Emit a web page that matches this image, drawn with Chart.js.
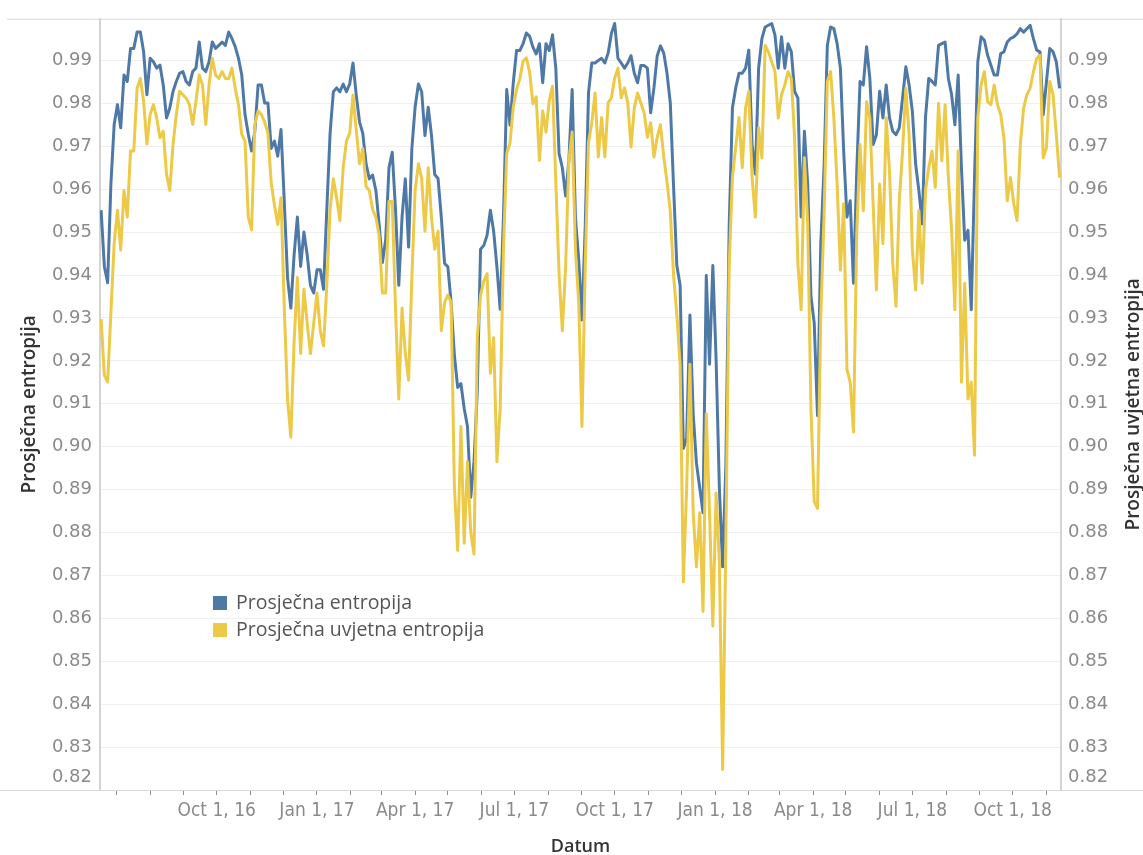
<!DOCTYPE html>
<html>
<head>
<meta charset="utf-8">
<script src="https://cdn.jsdelivr.net/npm/chart.js@4.4.1/dist/chart.umd.min.js"></script>
<style>
  html, body { margin: 0; padding: 0; background: #ffffff; }
  #wrap { width: 1143px; height: 855px; position: relative; }
</style>
</head>
<body>
<div id="wrap"><canvas id="chart" width="1143" height="855"></canvas></div>
<script>
// Daily sampling: one value every STEP_DAYS days, first sample on 17 Jun 2016.
const AXIS_START = Date.UTC(2016, 5, 16);   // day 0 of the time axis
const FIRST_SAMPLE_DAY = 1;
const STEP_DAYS = 3;
const AXIS_END_DAY = 881.3;

const SERIES_NAMES = ['Prosječna entropija', 'Prosječna uvjetna entropija'];
const AXIS_TITLES = { left: 'Prosječna entropija', right: 'Prosječna uvjetna entropija', bottom: 'Datum' };

const prosjecnaEntropija = [
  0.9551, 0.9420, 0.9382, 0.9612, 0.9751, 0.9797, 0.9743, 0.9866, 0.9851, 0.9928,
  0.9928, 0.9966, 0.9966, 0.9920, 0.9820, 0.9905, 0.9897, 0.9882, 0.9889, 0.9843,
  0.9766, 0.9789, 0.9828, 0.9851, 0.9870, 0.9874, 0.9851, 0.9843, 0.9874, 0.9882,
  0.9943, 0.9882, 0.9874, 0.9897, 0.9943, 0.9928, 0.9935, 0.9943, 0.9935, 0.9966,
  0.9951, 0.9932, 0.9905, 0.9866, 0.9774, 0.9728, 0.9689, 0.9735, 0.9843, 0.9843,
  0.9801, 0.9801, 0.9695, 0.9712, 0.9677, 0.9739, 0.9571, 0.9394, 0.9323, 0.9447,
  0.9535, 0.9420, 0.9500, 0.9447, 0.9376, 0.9358, 0.9412, 0.9412, 0.9367, 0.9553,
  0.9730, 0.9827, 0.9836, 0.9827, 0.9845, 0.9827, 0.9845, 0.9894, 0.9819, 0.9757,
  0.9730, 0.9659, 0.9624, 0.9633, 0.9597, 0.9518, 0.9429, 0.9482, 0.9650, 0.9686,
  0.9553, 0.9376, 0.9535, 0.9624, 0.9465, 0.9695, 0.9792, 0.9845, 0.9827, 0.9725,
  0.9791, 0.9725, 0.9634, 0.9625, 0.9535, 0.9427, 0.9419, 0.9336, 0.9213, 0.9138,
  0.9147, 0.9089, 0.9047, 0.8882, 0.8965, 0.9130, 0.9460, 0.9469, 0.9493, 0.9551,
  0.9502, 0.9419, 0.9320, 0.9535, 0.9832, 0.9749, 0.9848, 0.9923, 0.9923, 0.9939,
  0.9964, 0.9956, 0.9931, 0.9915, 0.9939, 0.9848, 0.9939, 0.9923, 0.9960, 0.9882,
  0.9683, 0.9650, 0.9584, 0.9667, 0.9832, 0.9535, 0.9436, 0.9295, 0.9514, 0.9825,
  0.9894, 0.9894, 0.9900, 0.9905, 0.9894, 0.9917, 0.9963, 0.9986, 0.9905, 0.9894,
  0.9882, 0.9894, 0.9911, 0.9870, 0.9848, 0.9888, 0.9888, 0.9882, 0.9778, 0.9836,
  0.9911, 0.9934, 0.9917, 0.9870, 0.9801, 0.9606, 0.9422, 0.9376, 0.8996, 0.9019,
  0.9307, 0.9076, 0.8961, 0.8904, 0.8846, 0.9399, 0.9192, 0.9422, 0.9203, 0.8904,
  0.8720, 0.8961, 0.9514, 0.9790, 0.9836, 0.9870, 0.9870, 0.9882, 0.9924, 0.9704,
  0.9635, 0.9882, 0.9951, 0.9978, 0.9982, 0.9986, 0.9959, 0.9882, 0.9955, 0.9882,
  0.9939, 0.9920, 0.9828, 0.9812, 0.9535, 0.9735, 0.9612, 0.9350, 0.9288, 0.9072,
  0.9473, 0.9650, 0.9935, 0.9978, 0.9974, 0.9939, 0.9882, 0.9689, 0.9535, 0.9573,
  0.9381, 0.9643, 0.9851, 0.9843, 0.9932, 0.9858, 0.9704, 0.9727, 0.9828, 0.9766,
  0.9843, 0.9766, 0.9735, 0.9727, 0.9743, 0.9812, 0.9885, 0.9843, 0.9781, 0.9658,
  0.9596, 0.9519, 0.9766, 0.9858, 0.9851, 0.9843, 0.9935, 0.9939, 0.9943, 0.9858,
  0.9820, 0.9750, 0.9866, 0.9650, 0.9481, 0.9504, 0.9319, 0.9627, 0.9897, 0.9955,
  0.9947, 0.9912, 0.9889, 0.9866, 0.9866, 0.9916, 0.9920, 0.9943, 0.9951, 0.9955,
  0.9962, 0.9974, 0.9966, 0.9974, 0.9982, 0.9951, 0.9924, 0.9920, 0.9774, 0.9851,
  0.9928, 0.9920, 0.9897, 0.9835
];

const prosjecnaUvjetnaEntropija = [
  0.9297, 0.9166, 0.9151, 0.9312, 0.9474, 0.9551, 0.9458, 0.9597, 0.9535, 0.9689,
  0.9689, 0.9835, 0.9858, 0.9805, 0.9705, 0.9774, 0.9797, 0.9766, 0.9720, 0.9735,
  0.9635, 0.9597, 0.9705, 0.9774, 0.9828, 0.9820, 0.9812, 0.9797, 0.9751, 0.9805,
  0.9866, 0.9843, 0.9751, 0.9843, 0.9905, 0.9866, 0.9858, 0.9874, 0.9858, 0.9858,
  0.9882, 0.9835, 0.9797, 0.9728, 0.9712, 0.9535, 0.9505, 0.9751, 0.9782, 0.9774,
  0.9757, 0.9730, 0.9615, 0.9562, 0.9518, 0.9580, 0.9323, 0.9111, 0.9022, 0.9243,
  0.9394, 0.9217, 0.9367, 0.9288, 0.9217, 0.9288, 0.9358, 0.9270, 0.9235, 0.9376,
  0.9553, 0.9624, 0.9580, 0.9527, 0.9650, 0.9712, 0.9730, 0.9819, 0.9739, 0.9659,
  0.9695, 0.9606, 0.9597, 0.9553, 0.9535, 0.9491, 0.9358, 0.9358, 0.9571, 0.9571,
  0.9323, 0.9111, 0.9323, 0.9217, 0.9155, 0.9394, 0.9597, 0.9659, 0.9624, 0.9502,
  0.9650, 0.9535, 0.9460, 0.9502, 0.9270, 0.9336, 0.9353, 0.9336, 0.8907, 0.8758,
  0.9047, 0.8775, 0.8965, 0.8800, 0.8750, 0.9254, 0.9353, 0.9386, 0.9403, 0.9171,
  0.9254, 0.8965, 0.9089, 0.9460, 0.9683, 0.9708, 0.9791, 0.9832, 0.9857, 0.9898,
  0.9906, 0.9873, 0.9799, 0.9815, 0.9667, 0.9782, 0.9733, 0.9807, 0.9840, 0.9617,
  0.9403, 0.9270, 0.9419, 0.9667, 0.9733, 0.9460, 0.9336, 0.9047, 0.9422, 0.9709,
  0.9755, 0.9824, 0.9675, 0.9767, 0.9675, 0.9801, 0.9813, 0.9859, 0.9882, 0.9813,
  0.9836, 0.9801, 0.9698, 0.9790, 0.9824, 0.9801, 0.9778, 0.9721, 0.9755, 0.9675,
  0.9721, 0.9750, 0.9675, 0.9617, 0.9548, 0.9399, 0.9307, 0.9192, 0.8685, 0.8904,
  0.9192, 0.8846, 0.8720, 0.8846, 0.8616, 0.9076, 0.8846, 0.8582, 0.8892, 0.8731,
  0.8248, 0.8789, 0.9422, 0.9629, 0.9698, 0.9767, 0.9650, 0.9789, 0.9828, 0.9627,
  0.9535, 0.9743, 0.9673, 0.9935, 0.9920, 0.9897, 0.9874, 0.9766, 0.9820, 0.9843,
  0.9874, 0.9858, 0.9720, 0.9427, 0.9319, 0.9673, 0.9519, 0.9088, 0.8872, 0.8856,
  0.9303, 0.9535, 0.9851, 0.9874, 0.9766, 0.9612, 0.9411, 0.9566, 0.9180, 0.9150,
  0.9034, 0.9496, 0.9704, 0.9550, 0.9804, 0.9766, 0.9566, 0.9365, 0.9612, 0.9473,
  0.9766, 0.9643, 0.9427, 0.9327, 0.9573, 0.9689, 0.9835, 0.9727, 0.9458, 0.9365,
  0.9550, 0.9381, 0.9596, 0.9650, 0.9689, 0.9604, 0.9800, 0.9666, 0.9797, 0.9627,
  0.9504, 0.9319, 0.9689, 0.9150, 0.9381, 0.9111, 0.9150, 0.8980, 0.9766, 0.9843,
  0.9874, 0.9804, 0.9797, 0.9843, 0.9797, 0.9774, 0.9720, 0.9573, 0.9627, 0.9566,
  0.9527, 0.9704, 0.9789, 0.9820, 0.9835, 0.9874, 0.9905, 0.9912, 0.9673, 0.9697,
  0.9851, 0.9820, 0.9727, 0.9627
];

const Y_TICKS = [0.82, 0.83, 0.84, 0.85, 0.86, 0.87, 0.88, 0.89, 0.90,
                 0.91, 0.92, 0.93, 0.94, 0.95, 0.96, 0.97, 0.98, 0.99];
const Y_MIN = 0.82;
const Y_MAX = 0.9997;

// Month starts shown as tick marks; quarter starts carry a label.
const FIRST_TICK_MONTH = [2016, 6];   // Jul 2016
const LAST_TICK_MONTH = [2018, 10];   // Nov 2018
const MONTH_ABBR = ['Jan', 'Feb', 'Mar', 'Apr', 'May', 'Jun', 'Jul', 'Aug', 'Sep', 'Oct', 'Nov', 'Dec'];
const UNLABELED_TICKS = ['2016-6'];

const DAY_MS = 86400000;
const dayOf = (y, m) => (Date.UTC(y, m, 1) - AXIS_START) / DAY_MS;

const monthTicks = [];
for (let y = FIRST_TICK_MONTH[0], m = FIRST_TICK_MONTH[1];
     y < LAST_TICK_MONTH[0] || (y === LAST_TICK_MONTH[0] && m <= LAST_TICK_MONTH[1]);
     m === 11 ? (y++, m = 0) : m++) {
  monthTicks.push(dayOf(y, m));
}

const toPoints = values => values.map((v, i) => ({ x: FIRST_SAMPLE_DAY + i * STEP_DAYS, y: v }));

const BLUE = '#4e79a7';
const YELLOW = '#edc948';
const TICK_COLOR = '#8a8a8a';
const TITLE_COLOR = '#333333';
const TICK_FONT = "'DejaVu Sans', sans-serif";
const X_TICK_FONT = "'Liberation Sans Narrow', 'DejaVu Sans Condensed', sans-serif";
const TITLE_FONT = "'Open Sans', sans-serif";

const isBottomTick = ctx => ctx.tick && Math.abs(ctx.tick.value - Y_MIN) < 1e-9;
const yTickLabel = v => Math.abs(v - Y_MIN) < 1e-9 ? [v.toFixed(2), ''] : v.toFixed(2);
const yTickFont = ctx => ({ family: TICK_FONT, size: 18, lineHeight: isBottomTick(ctx) ? '26px' : 1.2 });
const setYTicks = scale => { scale.ticks = Y_TICKS.map(v => ({ value: v })); };

// Thin pane borders spanning the full width, as in the dashboard frame.
const framePlugin = {
  id: 'frame',
  beforeDatasetsDraw(chart) {
    const { ctx, chartArea } = chart;
    ctx.save();
    ctx.strokeStyle = '#d9d9d9';
    ctx.lineWidth = 1;
    ctx.beginPath();
    ctx.moveTo(7, chartArea.top + 0.5);
    ctx.lineTo(chart.width, chartArea.top + 0.5);
    ctx.moveTo(0, chartArea.bottom + 0.5);
    ctx.lineTo(chart.width, chartArea.bottom + 0.5);
    ctx.stroke();
    ctx.restore();
  }
};

// Legend drawn inside the plot area, lower left.
const innerLegendPlugin = {
  id: 'innerLegend',
  afterDraw(chart, args, opts) {
    const { ctx } = chart;
    ctx.save();
    ctx.font = `${opts.fontSize}px ${opts.fontFamily}`;
    ctx.textBaseline = 'middle';
    ctx.textAlign = 'left';
    const order = [0, 1];
    order.forEach((di, row) => {
      const ds = chart.data.datasets[di];
      const y = opts.y + row * opts.rowGap;
      ctx.fillStyle = ds.borderColor;
      ctx.fillRect(opts.x, y - opts.box / 2, opts.box, opts.box);
      ctx.fillStyle = opts.color;
      ctx.fillText(ds.label, opts.x + opts.box + opts.gap, y);
    });
    ctx.restore();
  }
};

// Right-hand axis title reads bottom-to-top like the left one.
const rightTitlePlugin = {
  id: 'rightTitle',
  afterDraw(chart, args, opts) {
    const { ctx, chartArea } = chart;
    ctx.save();
    ctx.translate(opts.x, (chartArea.top + chartArea.bottom) / 2);
    ctx.rotate(-Math.PI / 2);
    ctx.font = `${opts.weight} ${opts.fontSize}px ${opts.fontFamily}`;
    ctx.fillStyle = opts.color;
    ctx.textAlign = 'center';
    ctx.textBaseline = 'middle';
    ctx.fillText(opts.text, 0, 0);
    ctx.restore();
  }
};

new Chart(document.getElementById('chart'), {
  type: 'line',
  data: {
    datasets: [
      {
        label: SERIES_NAMES[0],
        data: toPoints(prosjecnaEntropija),
        borderColor: BLUE,
        backgroundColor: BLUE,
        borderWidth: 3,
        pointRadius: 0,
        tension: 0,
        borderJoinStyle: 'round',
        yAxisID: 'y',
        order: 1
      },
      {
        label: SERIES_NAMES[1],
        data: toPoints(prosjecnaUvjetnaEntropija),
        borderColor: YELLOW,
        backgroundColor: YELLOW,
        borderWidth: 3,
        pointRadius: 0,
        tension: 0,
        borderJoinStyle: 'round',
        yAxisID: 'y2',
        order: 0
      }
    ]
  },
  options: {
    responsive: false,
    animation: false,
    events: [],
    layout: { padding: { top: 14, left: 0, right: 0, bottom: 0 } },
    plugins: {
      legend: { display: false },
      tooltip: { enabled: false },
      innerLegend: { x: 213, y: 603, box: 14, gap: 9, rowGap: 27, fontSize: 19.5,
                     fontFamily: TITLE_FONT, color: '#555555' },
      rightTitle: { text: AXIS_TITLES.right, x: 1134, fontSize: 19, weight: 600,
                    fontFamily: TITLE_FONT, color: TITLE_COLOR }
    },
    scales: {
      x: {
        type: 'linear',
        min: 0,
        max: AXIS_END_DAY,
        afterBuildTicks: scale => { scale.ticks = monthTicks.map(v => ({ value: v })); },
        afterFit: scale => { scale.height = 65; },
        grid: { drawOnChartArea: false, drawTicks: true, tickLength: 5, color: '#8c8c8c' },
        border: { display: false },
        ticks: {
          autoSkip: false,
          maxRotation: 0,
          minRotation: 0,
          padding: 5,
          color: TICK_COLOR,
          font: { family: X_TICK_FONT, size: 19 },
          callback: value => {
            const d = new Date(AXIS_START + value * DAY_MS);
            const m = d.getUTCMonth();
            if (m % 3 !== 0) return '';
            if (UNLABELED_TICKS.includes(`${d.getUTCFullYear()}-${m}`)) return '';
            return `${MONTH_ABBR[m]} ${d.getUTCDate()}, ${String(d.getUTCFullYear()).slice(2)}`;
          }
        },
        title: {
          display: true,
          text: AXIS_TITLES.bottom,
          color: TITLE_COLOR,
          font: { family: TITLE_FONT, size: 18, weight: 600, lineHeight: 0.9 },
          padding: { top: 0, bottom: 0 }
        }
      },
      y: {
        type: 'linear',
        position: 'left',
        min: Y_MIN,
        max: Y_MAX,
        afterBuildTicks: setYTicks,
        afterFit: scale => { scale.width = 100; },
        grid: { color: '#efefef', lineWidth: 1, drawTicks: false },
        border: { display: true, color: '#d4d4d4', width: 2 },
        ticks: { autoSkip: false, padding: 8, color: TICK_COLOR, font: yTickFont, callback: yTickLabel },
        title: {
          display: true,
          text: AXIS_TITLES.left,
          color: TITLE_COLOR,
          font: { family: TITLE_FONT, size: 19, weight: 600 },
          padding: { top: 18, bottom: 0 }
        }
      },
      y2: {
        type: 'linear',
        position: 'right',
        min: Y_MIN,
        max: Y_MAX,
        afterBuildTicks: setYTicks,
        afterFit: scale => { scale.width = 82; },
        grid: { drawOnChartArea: false, drawTicks: false },
        border: { display: true, color: '#d4d4d4', width: 2 },
        ticks: { autoSkip: false, padding: 7, color: TICK_COLOR, font: yTickFont, callback: yTickLabel },
        title: { display: false }
      }
    }
  },
  plugins: [framePlugin, innerLegendPlugin, rightTitlePlugin]
});
</script>
</body>
</html>
